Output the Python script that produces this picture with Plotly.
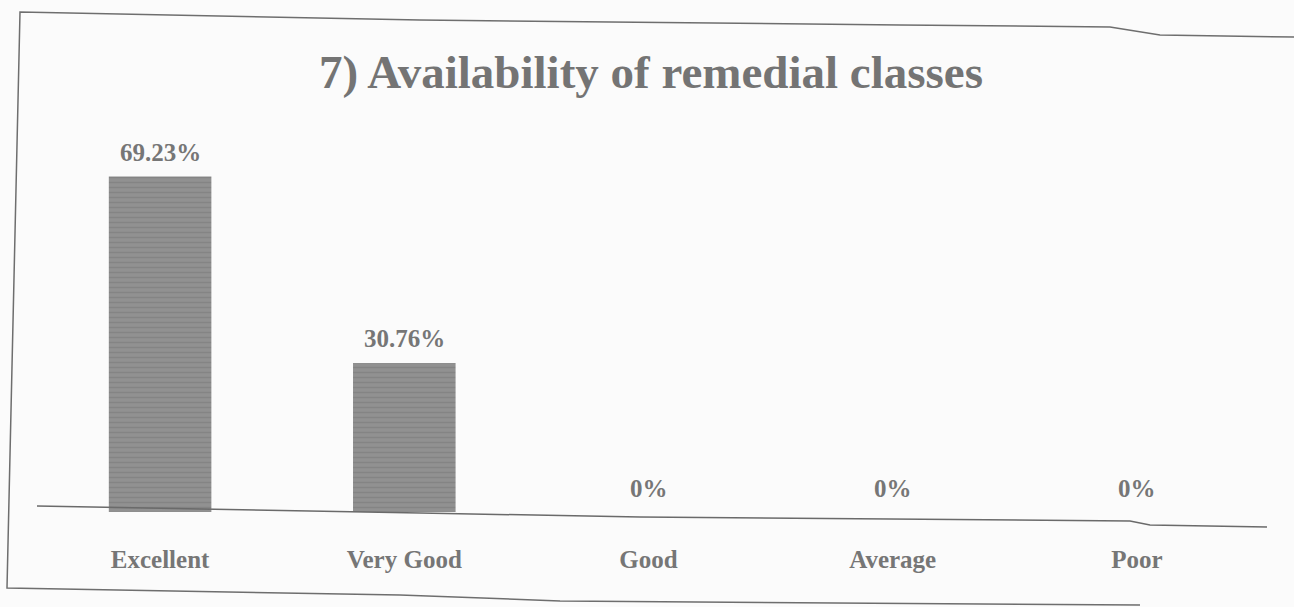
import plotly.graph_objects as go

categories = ["Excellent", "Very Good", "Good", "Average", "Poor"]
values = [69.23, 30.76, 0, 0, 0]
value_labels = ["69.23%", "30.76%", "0%", "0%", "0%"]
title_text = "7) Availability of remedial classes"

W, H = 1294, 607
L, R, T, B = 38, 35, 130, 95
PW, PH = W - L - R, H - T - B

def px(x):
    return (x - L) / PW

def py(y):
    return (H - B - y) / PH

FONT = "Liberation Serif, Times New Roman, serif"
TXT = "#767676"

fig = go.Figure()
fig.add_trace(go.Bar(
    x=categories,
    y=values,
    marker=dict(
        color="#8e8e8e",
        line=dict(width=0),
        pattern=dict(shape="-", fgcolor="#777777", bgcolor="#919191", size=5, solidity=0.3),
    ),
    hoverinfo="x+y",
))

annotations = []
for c, v, t in zip(categories, values, value_labels):
    annotations.append(dict(
        x=c, y=v, xref="x", yref="y", text=t, showarrow=False,
        yanchor="middle", yshift=24,
        font=dict(family=FONT, size=25, color=TXT, weight="bold"),
    ))

def path_from(points):
    s = ""
    for i, (x, y) in enumerate(points):
        s += ("M" if i == 0 else " L") + f" {px(x):.5f},{py(y):.5f}"
    return s

frame_pts = [(1294, 37), (1160, 35), (1110, 27), (900, 25), (420, 20), (20, 12),
             (7, 588), (400, 595), (560, 601), (1140, 605)]
axis_pts = [(37, 506), (420, 513), (640, 517), (1130, 521), (1150, 525), (1267, 527)]

shapes = [
    dict(type="path", xref="paper", yref="paper", path=path_from(frame_pts),
         line=dict(color="#6e6e6e", width=1.5)),
    dict(type="path", xref="paper", yref="paper", path=path_from(axis_pts),
         line=dict(color="#6a6a6a", width=1.5)),
]

fig.update_layout(
    width=W, height=H, autosize=False,
    margin=dict(l=L, r=R, t=T, b=B, pad=0),
    paper_bgcolor="#fbfbfb",
    plot_bgcolor="#fbfbfb",
    bargap=0.58,
    showlegend=False,
    title=dict(
        text=title_text, x=651 / W, xanchor="center", y=1 - 72 / H, yanchor="middle",
        xref="container", yref="container",
        font=dict(family=FONT, size=47, color="#747474", weight="bold"),
    ),
    xaxis=dict(
        showgrid=False, zeroline=False, showline=False, ticks="",
        tickfont=dict(family=FONT, size=25, color=TXT, weight="bold"),
        ticklabelstandoff=30,
    ),
    yaxis=dict(
        range=[0, 78.8], showgrid=False, zeroline=False, showline=False,
        showticklabels=False, ticks="",
    ),
    annotations=annotations,
    shapes=shapes,
)

fig.write_html(
    "out.html",
    config={"displayModeBar": False},
    post_script="document.body.style.margin='0';document.body.style.overflow='hidden';",
)
